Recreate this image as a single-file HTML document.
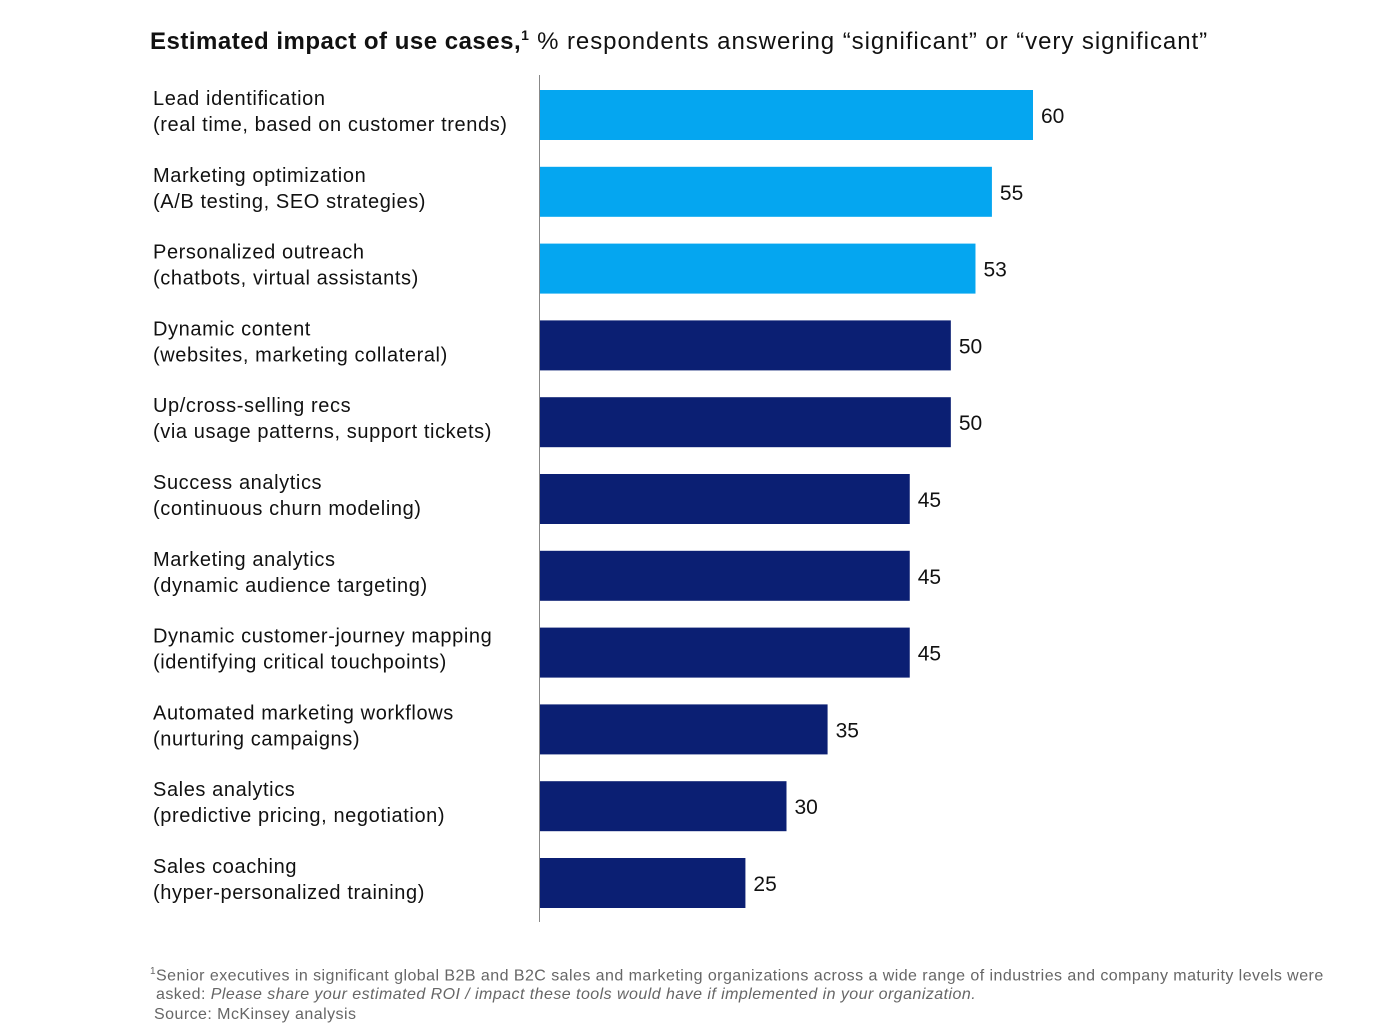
<!DOCTYPE html>
<html><head><meta charset="utf-8"><style>
body{margin:0;width:1400px;height:1032px;background:#fff;font-family:"Liberation Sans",Arial,sans-serif;overflow:hidden;position:relative}
#title{position:absolute;left:150px;top:27px;font-size:24px;color:#111;white-space:nowrap;letter-spacing:0.95px}
#title b{letter-spacing:0.5px}
#title b sup{font-size:14px}
.foot{position:absolute;left:150px;font-size:16px;color:#666;white-space:nowrap;letter-spacing:0.45px}
</style></head><body>
<div id="title"><b>Estimated impact of use cases,<sup>1</sup></b> % respondents answering “significant” or “very significant”</div>
<svg id="chart" width="1400" height="1032" style="position:absolute;left:0;top:0"></svg>
<div class="foot" style="top:966px"><sup style="font-size:10px">1</sup>Senior executives in significant global B2B and B2C sales and marketing organizations across a wide range of industries and company maturity levels were</div>
<div class="foot" style="top:986px;left:156px">asked: <i>Please share your estimated ROI / impact these tools would have if implemented in your organization.</i></div>
<div class="foot" style="top:1006px;left:154px">Source: McKinsey analysis</div>
<script>
const categories=["Lead identification","Marketing optimization","Personalized outreach","Dynamic content","Up/cross-selling recs","Success analytics","Marketing analytics","Dynamic customer-journey mapping","Automated marketing workflows","Sales analytics","Sales coaching"];
const subLabels=["(real time, based on customer trends)","(A/B testing, SEO strategies)","(chatbots, virtual assistants)","(websites, marketing collateral)","(via usage patterns, support tickets)","(continuous churn modeling)","(dynamic audience targeting)","(identifying critical touchpoints)","(nurturing campaigns)","(predictive pricing, negotiation)","(hyper-personalized training)"];
const values=[60,55,53,50,50,45,45,45,35,30,25];
const highlighted=[true,true,true,false,false,false,false,false,false,false,false];
const svg=document.getElementById('chart');
const NS='http://www.w3.org/2000/svg';
const x0=540,pxPer=493/60;
const xScale=v=>x0+v*pxPer;
const yScale=i=>115+i*76.8;
const barH=50;
function mk(t,a){const e=document.createElementNS(NS,t);for(const k in a)e.setAttribute(k,a[k]);svg.appendChild(e);return e;}
values.forEach((v,i)=>{
  const yc=yScale(i);
  const r=mk('rect',{x:x0,y:yc-barH/2,width:xScale(v)-x0,height:barH,fill:highlighted[i]?'#05a6f0':'#0b1f73'});
  
  
  const t=mk('text',{x:xScale(v)+8,y:yc+8,'font-size':21,fill:'#111','font-family':'Liberation Sans, Arial, sans-serif'});
  t.textContent=v;
  
  
  const l1=mk('text',{x:153,y:yc-10,'font-size':20,fill:'#111','letter-spacing':0.6,'font-family':'Liberation Sans, Arial, sans-serif'});
  l1.textContent=categories[i];
  
  
  const l2=mk('text',{x:153,y:yc+16,'font-size':20,fill:'#111','letter-spacing':0.6,'font-family':'Liberation Sans, Arial, sans-serif'});
  l2.textContent=subLabels[i];
  
  
});
const ax=mk('line',{x1:539.5,x2:539.5,y1:75,y2:922,stroke:'#888','stroke-width':1});


</script>
</body></html>
